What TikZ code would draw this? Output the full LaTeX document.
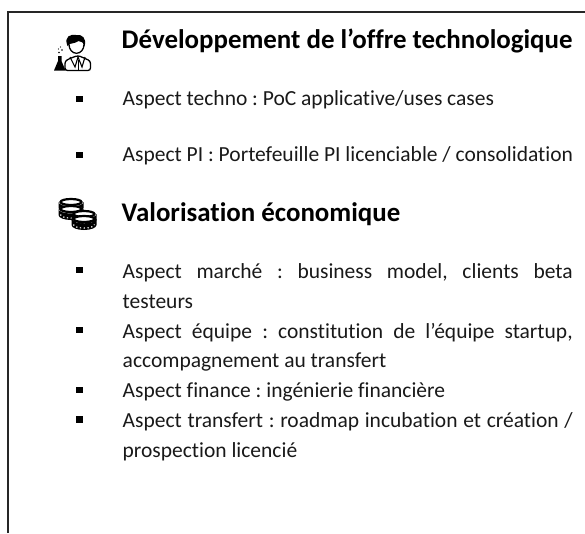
\documentclass[tikz,border=0pt]{standalone}
\usepackage{fontspec}
\setmainfont{Carlito}[Ligatures=NoCommon]
\frenchspacing
\tikzset{
  x=1pt,y=-1pt,
  frameline/.style={draw=black!85,line width=2pt},
  heading/.style={anchor=base west,inner sep=0pt,font=\fontsize{26.9}{30}\selectfont\bfseries,text=black},
  bodyline/.style={anchor=base west,inner sep=0pt,font=\fontsize{21.5}{26}\selectfont\frenchspacing,text=black!90},
  bulletmark/.style={fill=black,draw=none,minimum size=6.5pt,inner sep=0pt},
  coin/.style={draw=black,line width=2.2pt,fill=white},
  coindots/.style={draw=white,line width=1.2pt,dash pattern=on 1.2pt off 2.6pt}
}
\newcommand{\justline}[1]{\makebox[450pt][s]{#1}}
\newcommand{\coinstack}[2]{%
  \begin{scope}[shift={(#1,#2)}]
    \fill[black] (-12.5,0) -- (-12.5,6) arc[start angle=180,end angle=360,x radius=12.5,y radius=-5] -- (12.5,0) arc[start angle=0,end angle=180,x radius=12.5,y radius=4.5] -- cycle;
    \draw[coindots] (-10.5,5.5) arc[start angle=180,end angle=360,x radius=10.5,y radius=-3.6];
    \draw[coin] (0,0) ellipse[x radius=10.5,y radius=3];
  \end{scope}}
\begin{document}
\begin{tikzpicture}
\useasboundingbox (0,0) rectangle (585,533);
\coordinate (frameBL) at (8.3,533);
\coordinate (frameTL) at (8.3,12.3);
\coordinate (frameTR) at (585,12.3);
\draw[frameline] (frameBL) -- (frameTL) -- (frameTR);

% scientist icon
\begin{scope}
  \draw[black,line width=1.3pt,fill=white,rounded corners=2.5pt] (65,70.5) -- (65,61) -- (71,58) -- (78,55.5) -- (84,58) -- (90.5,61) -- (90.5,70.5) -- cycle;
  \fill[white,draw=black,line width=1.3pt] (76.5,44.5) ellipse[x radius=7.5,y radius=8.8];
  \fill[black] (67.5,46) .. controls (63.5,36) and (71,34) .. (76,35) .. controls (82,34) and (87,38) .. (84.5,46.5) .. controls (84,42) and (81,41.5) .. (78.5,41) .. controls (74,44) and (71,43) .. (69.5,44) -- cycle;
  \draw[black,line width=1.1pt] (70,57) -- (75,67) -- (78,57) -- (82,67) -- (85,57);
  \draw[black,line width=0.9pt] (78,60) -- (78,70);
  \fill[black] (54,70.5) -- (58,61) -- (58,56) -- (61.5,56) -- (61.5,61) -- (65.5,70.5) -- cycle;
  \fill[black] (59,52.5) circle (0.9) (62,50) circle (0.8) (58.5,49) circle (0.7) (60.5,47) circle (0.7);
\end{scope}

% coins icon
\coinstack{71}{202}
\coinstack{71}{209}
\coinstack{84}{214}
\coinstack{84}{219}

\node[heading] (t1) at (121.5,48) {Développement de l’offre technologique};
\node[bodyline] (l1) at (122.5,105) {Aspect techno : PoC applicative/uses cases};
\node[bodyline] (l2) at (122.5,161) {Aspect PI : Portefeuille PI licenciable / consolidation};
\node[heading] (t2) at (121.5,221) {Valorisation économique};
\node[bodyline] (l3) at (122.5,278.3) {\justline{Aspect marché : business model, clients beta}};
\node[bodyline] (l4) at (122.5,308.3) {testeurs};
\node[bodyline] (l5) at (122.5,338) {\justline{Aspect équipe : constitution de l’équipe startup,}};
\node[bodyline] (l6) at (122.5,367.7) {accompagnement au transfert};
\node[bodyline] (l7) at (122.5,397.7) {Aspect finance : ingénierie financière};
\node[bodyline] (l8) at (122.5,427) {\justline{Aspect transfert : roadmap incubation et création /}};
\node[bodyline] (l9) at (122.5,457) {prospection licencié};

\node[bulletmark] (b1) at (79.3,99) {};
\node[bulletmark] (b2) at (79.3,155) {};
\node[bulletmark] (b3) at (79.3,270) {};
\node[bulletmark] (b4) at (79.3,330) {};
\node[bulletmark] (b5) at (79.3,390) {};
\node[bulletmark] (b6) at (79.3,419.5) {};
\end{tikzpicture}
\end{document}
